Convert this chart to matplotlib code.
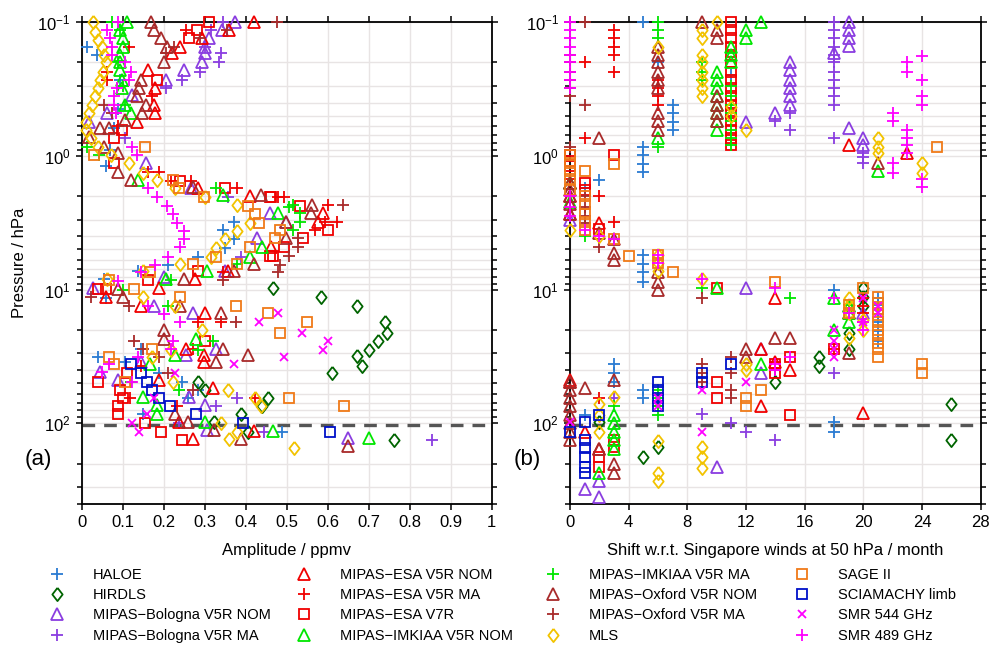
import matplotlib
matplotlib.use("Agg")
import matplotlib.pyplot as plt
from matplotlib.lines import Line2D
from matplotlib.ticker import LogLocator, MultipleLocator, NullFormatter, FuncFormatter

plt.rcParams["font.family"] = ["Liberation Sans", "DejaVu Sans"]
plt.rcParams["mathtext.fontset"] = "custom"
plt.rcParams["mathtext.rm"] = "Liberation Sans"
plt.rcParams["mathtext.it"] = "Liberation Sans:italic"
plt.rcParams["mathtext.bf"] = "Liberation Sans:bold"

# (pressure hPa, amplitude ppmv) and (pressure hPa, shift months)
HALOE_AMP = [(0.154, 0.014), (0.176, 0.038), (0.27, 0.095), (0.45, 0.09), (0.62, 0.08), (0.9, 0.07),
             (1.2, 0.06), (3.1, 0.371), (3.56, 0.346), (4.15, 0.373), (4.86, 0.351), (5.66, 0.285),
             (6.5, 0.21), (7.3, 0.137), (8.4, 0.055), (11.5, 0.06), (28, 0.144), (32, 0.04),
             (35, 0.107), (42, 0.188), (48.6, 0.246), (56, 0.283), (64, 0.26), (85.6, 0.15), (115, 0.49)]
HALOE_SHIFT = [(0.1, 5), (0.2, 6), (0.25, 11), (0.42, 7), (0.48, 7), (0.56, 7), (0.64, 7), (0.86, 5),
               (0.98, 5), (1.15, 5), (1.33, 5), (1.51, 2), (1.73, 1), (5.5, 5), (6.4, 5), (7.4, 5),
               (8.7, 5), (10, 18), (11.6, 21), (13.1, 21), (15.3, 21), (17.6, 21), (20.5, 21),
               (24.2, 21), (36, 3), (42, 3), (48.6, 3), (56, 5), (64, 5), (86, 1), (98, 18), (115, 18)]

HIRDLS_AMP = [(9.8, 0.466), (11.3, 0.583), (13.3, 0.671), (17.6, 0.741), (21, 0.746), (24.2, 0.724),
              (28.1, 0.70), (31.5, 0.673), (37, 0.683), (42, 0.61), (48.6, 0.285), (56.3, 0.30),
              (64, 0.454), (74, 0.439), (85.6, 0.39), (97, 0.324), (115, 0.407), (132, 0.763)]
HIRDLS_SHIFT = [(9.7, 20), (11.3, 20), (13.3, 20), (21, 19), (28, 19), (32, 17), (37, 17), (48.6, 14),
                (72, 26), (98, 2), (132, 26), (150, 6), (178, 5)]

BOLOGNA_NOM_AMP = [(0.1, 0.375), (0.115, 0.343), (0.132, 0.31), (0.154, 0.302), (0.17, 0.302),
                   (0.2, 0.294), (0.228, 0.249), (0.271, 0.205), (0.35, 0.124), (0.476, 0.063),
                   (0.557, 0.017), (1.13, 0.156), (1.73, 0.266), (2.67, 0.459), (3.1, 0.498),
                   (4.08, 0.429), (7.31, 0.351), (8.1, 0.2), (9.8, 0.027), (13.3, 0.176), (15, 0.273),
                   (27.6, 0.327), (31, 0.254), (35, 0.144), (41, 0.046), (47, 0.09), (63, 0.263),
                   (73, 0.3), (111, 0.307), (128, 0.649)]
BOLOGNA_NOM_SHIFT = [(0.1, 19), (0.115, 19), (0.132, 19), (0.15, 19), (0.17, 18), (0.2, 15), (0.23, 15),
                     (0.27, 15), (0.31, 15), (0.36, 15), (0.42, 15), (0.48, 14), (0.56, 12), (0.62, 19),
                     (0.73, 20), (0.83, 20), (3.0, 0), (9.7, 12), (13.3, 19), (15, 20), (27.6, 13),
                     (42, 13), (210, 10), (270, 2), (311, 1), (356, 2)]

BOLOGNA_MA_AMP = [(0.1, 0.345), (0.115, 0.315), (0.154, 0.302), (0.17, 0.34), (0.2, 0.335),
                  (0.236, 0.29), (0.27, 0.245), (0.31, 0.205), (0.73, 0.107), (2.02, 0.356),
                  (5.66, 0.388), (64, 0.38), (74, 0.327), (98.5, 0.237), (115, 0.444), (132, 0.854)]
BOLOGNA_MA_SHIFT = [(0.1, 18), (0.115, 18), (0.132, 18), (0.154, 18), (0.176, 18), (0.2, 18),
                    (0.236, 18), (0.27, 18), (0.31, 18), (0.36, 18), (0.42, 18), (0.476, 15),
                    (0.55, 14), (0.64, 15), (0.73, 18), (0.95, 20), (1.02, 20), (1.13, 20), (42, 18),
                    (64, 3), (85.6, 9), (98.5, 11), (115, 12), (132, 14)]

ESA_NOM_AMP = [(0.1, 0.42), (0.115, 0.36), (0.132, 0.294), (0.154, 0.241), (0.17, 0.221),
               (0.228, 0.163), (0.31, 0.18), (0.42, 0.176), (0.476, 0.18), (0.557, 0.136),
               (1.73, 0.285), (2.0, 0.412), (2.67, 0.59), (3.1, 0.576), (4.77, 0.461), (7.31, 0.356),
               (8.4, 0.276), (9.8, 0.188), (11.3, 0.059), (13.3, 0.144), (15, 0.3), (27.6, 0.254),
               (31, 0.298), (35, 0.298), (47, 0.188), (54, 0.32), (97, 0.237), (113, 0.42),
               (130, 0.273)]
ESA_NOM_SHIFT = [(0.83, 19), (0.95, 23), (1.6, 0), (2.0, 0), (2.7, 0), (3.2, 2), (11.6, 14), (15, 19),
                 (27.6, 13), (35, 14), (40, 15), (47, 0), (49, 0), (74, 13), (83, 20), (115, 1),
                 (156, 2)]

ESA_MA_AMP = [(0.115, 0.254), (0.154, 0.115), (0.236, 0.063), (0.27, 0.063), (0.36, 0.172),
              (0.6, 0.09), (1.32, 0.163), (1.32, 0.188), (1.54, 0.217), (1.54, 0.266), (1.73, 0.38),
              (2.02, 0.478), (2.02, 0.493), (2.32, 0.6), (3.1, 0.595), (3.1, 0.624), (3.56, 0.57),
              (7.44, 0.344), (17.6, 0.339), (17.6, 0.285), (28, 0.271), (37, 0.144), (64, 0.117),
              (64, 0.424), (74, 0.234)]
ESA_MA_SHIFT = [(0.115, 3), (0.132, 3), (0.154, 3), (0.176, 3), (0.2, 1), (0.236, 3), (0.27, 6),
                (0.31, 6), (0.36, 6), (0.42, 6), (0.73, 1), (1.5, 0), (2.0, 2), (3.1, 3), (11.6, 20),
                (13.3, 20), (15, 20), (17.6, 20), (28, 18), (35, 14), (40, 14), (64, 2), (74, 6)]

ESA_V7R_AMP = [(0.1, 0.31), (0.115, 0.282), (0.132, 0.261), (0.271, 0.185), (0.64, 0.099),
               (0.73, 0.078), (1.13, 0.078), (1.54, 0.241), (1.73, 0.349), (2.02, 0.459),
               (2.02, 0.461), (2.36, 0.532), (3.56, 0.6), (4.08, 0.541), (4.77, 0.493), (5.57, 0.459),
               (5.57, 0.466), (7.31, 0.285), (8.54, 0.163), (9.82, 0.041), (9.82, 0.059),
               (24.2, 0.3), (42, 0.112), (48.6, 0.041), (56, 0.093), (64, 0.1), (74, 0.09),
               (85.6, 0.088), (98.5, 0.154), (115, 0.193), (132, 0.246)]
ESA_V7R_SHIFT = [(0.1, 11), (0.115, 11), (0.132, 11), (0.154, 11), (0.176, 11), (0.2, 11), (0.236, 11),
                 (0.27, 11), (0.31, 11), (0.36, 11), (0.42, 11), (0.48, 11), (0.55, 11), (0.64, 11),
                 (0.73, 11), (0.83, 11), (0.98, 3), (0.98, 0), (1.1, 0), (1.2, 0), (1.6, 1), (1.8, 1),
                 (3.5, 2), (9.8, 10), (28, 18), (32, 15), (36, 14), (42, 14), (48.6, 10), (64, 10),
                 (86, 15), (132, 3), (150, 3), (178, 2), (210, 2)]

IMK_NOM_AMP = [(0.1, 0.11), (0.115, 0.095), (0.132, 0.1), (0.154, 0.1), (0.176, 0.095), (0.2, 0.095),
               (0.23, 0.095), (0.27, 0.099), (0.31, 0.099), (0.42, 0.107), (0.476, 0.12),
               (1.51, 0.137), (1.96, 0.346), (2.67, 0.478), (4.77, 0.441), (5.66, 0.412),
               (7.31, 0.307), (8.4, 0.205), (23.2, 0.278), (31, 0.229), (36, 0.168), (63, 0.151),
               (73, 0.183), (85.6, 0.185), (97, 0.302), (113, 0.466), (128, 0.702)]
IMK_NOM_SHIFT = [(0.1, 13), (0.115, 12), (0.132, 12), (0.154, 11), (0.176, 11), (0.2, 11), (0.236, 10),
                 (0.27, 10), (0.31, 10), (0.36, 10), (0.42, 10), (0.48, 10), (0.55, 10), (0.64, 10),
                 (0.73, 6), (1.3, 21), (1.6, 0), (2.2, 0), (9.8, 10), (11.6, 18), (13.3, 19),
                 (15, 19), (17.6, 19), (20, 18), (36, 13), (86, 3), (100, 3), (115, 3), (132, 3),
                 (156, 3), (236, 2)]

IMK_MA_AMP = [(0.1, 0.075), (0.115, 0.095), (0.2, 0.09), (0.3, 0.1), (0.42, 0.105), (0.86, 0.014),
              (0.98, 0.042), (1.73, 0.327), (2.32, 0.515), (2.4, 0.505), (2.67, 0.534), (3.1, 0.534),
              (3.56, 0.515), (6.42, 0.38), (8.54, 0.217), (10, 0.102), (13.3, 0.21), (24.2, 0.32),
              (28.1, 0.285), (48.6, 0.12), (56, 0.237)]
IMK_MA_SHIFT = [(0.1, 6), (0.115, 6), (0.132, 6), (0.2, 9), (0.236, 9), (0.27, 9), (0.3, 11),
                (0.36, 11), (0.42, 11), (0.48, 11), (0.55, 11), (0.64, 11), (0.73, 11), (0.83, 11),
                (0.86, 6), (4.0, 1), (4.2, 3), (9.8, 9), (11.6, 15), (13, 19), (15, 19), (56, 6),
                (64, 6), (74, 6), (86, 6), (74, 3)]

OXF_NOM_AMP = [(0.1, 0.17), (0.115, 0.176), (0.132, 0.193), (0.154, 0.209), (0.2, 0.2), (0.27, 0.144),
               (0.31, 0.139), (0.36, 0.136), (0.42, 0.156), (0.476, 0.148), (0.54, 0.107),
               (0.62, 0.046), (0.62, 0.066), (0.72, 0.017), (0.86, 0.054), (0.95, 0.09),
               (1.32, 0.088), (1.51, 0.12), (1.7, 0.273), (1.96, 0.437), (2.32, 0.563),
               (2.67, 0.559), (3.1, 0.498), (4.08, 0.498), (6.42, 0.42), (7.31, 0.371), (8.4, 0.249),
               (9.82, 0.088), (11.3, 0.1), (13.3, 0.241), (14.9, 0.339), (19.9, 0.2), (23.2, 0.2),
               (27.6, 0.344), (31, 0.405), (35, 0.329), (85.6, 0.227), (97, 0.259), (111, 0.324),
               (130, 0.388), (148, 0.649)]
OXF_NOM_SHIFT = [(0.1, 9), (0.115, 10), (0.132, 10), (0.154, 6), (0.176, 6), (0.2, 6), (0.236, 6),
                 (0.27, 6), (0.31, 6), (0.36, 10), (0.42, 10), (0.48, 10), (0.55, 10), (0.48, 6),
                 (0.55, 6), (0.64, 6), (0.73, 2), (1.13, 21), (1.6, 0), (1.8, 0), (2.0, 0), (2.3, 0),
                 (2.7, 0), (3.8, 2), (4.2, 3), (5.3, 3), (6, 3), (7.4, 6), (8.7, 6), (10, 6),
                 (23, 14), (23, 15), (27.6, 12), (32, 12), (30, 19), (47, 3), (54, 1), (48.6, 0),
                 (56, 0), (64, 0), (74, 0), (86, 0), (100, 0), (115, 0), (132, 0), (156, 2),
                 (200, 3), (236, 3)]

OXF_MA_AMP = [(0.1, 0.477), (0.115, 0.355), (0.132, 0.29), (0.154, 0.225), (0.17, 0.205),
              (0.42, 0.054), (0.48, 0.075), (2.32, 0.637), (4.08, 0.527), (4.77, 0.527),
              (5.57, 0.505), (6.54, 0.485), (7.44, 0.48), (8.54, 0.346), (11.3, 0.022),
              (13.3, 0.115), (17.6, 0.376), (24.2, 0.127), (28, 0.151), (32, 0.188), (42, 0.21),
              (56, 0.271)]
OXF_MA_SHIFT = [(0.1, 1), (0.176, 0), (0.2, 0), (0.236, 0), (0.27, 0), (0.31, 0), (0.36, 0), (0.42, 1),
                (0.86, 0), (2.0, 1), (2.4, 1), (2.8, 1), (3.2, 1), (4.8, 2), (11.6, 9), (32, 11),
                (36, 9), (42, 9), (48.6, 9), (42, 11), (56, 11), (64, 11)]

MLS_AMP = [(0.1, 0.029), (0.119, 0.034), (0.136, 0.041), (0.154, 0.05), (0.176, 0.054), (0.2, 0.059),
           (0.236, 0.053), (0.271, 0.046), (0.31, 0.041), (0.36, 0.034), (0.416, 0.026),
           (0.476, 0.017), (0.557, 0.012), (0.64, 0.01), (0.73, 0.022), (0.856, 0.039),
           (0.984, 0.071), (1.13, 0.115), (1.35, 0.151), (1.51, 0.183), (1.73, 0.227), (2.02, 0.3),
           (2.35, 0.378), (3.16, 0.41), (3.62, 0.378), (4.15, 0.349), (4.86, 0.329), (5.66, 0.315),
           (6.42, 0.241), (7.31, 0.151), (8.4, 0.061), (11.3, 0.151), (13.3, 0.229), (20, 0.295),
           (28.1, 0.217), (32, 0.173), (48.6, 0.222), (56, 0.356), (64, 0.424), (74, 0.437),
           (99, 0.34), (115, 0.378), (130, 0.359), (153, 0.517)]
MLS_SHIFT = [(0.1, 10), (0.115, 9), (0.132, 9), (0.154, 6), (0.176, 9), (0.2, 9), (0.236, 9),
             (0.27, 9), (0.31, 9), (0.36, 9), (0.43, 11), (0.5, 11), (0.64, 12), (0.73, 21),
             (0.86, 21), (0.95, 21), (1.13, 24), (1.34, 24), (3.6, 0), (4.0, 2), (5.5, 6), (6.3, 6),
             (7.3, 6), (8.4, 9), (11.6, 19), (13, 19), (15, 19), (17, 20), (20, 20), (23, 19),
             (36, 12), (40, 12), (63, 3), (72, 2), (86, 2), (115, 2), (135, 6), (150, 9), (178, 9),
             (215, 9), (236, 6), (270, 6)]

SAGE_AMP = [(0.86, 0.154), (0.98, 0.03), (1.51, 0.224), (1.73, 0.237), (2.02, 0.298), (2.36, 0.407),
            (2.72, 0.424), (3.16, 0.432), (3.56, 0.485), (4.08, 0.473), (4.77, 0.41), (5.66, 0.327),
            (6.42, 0.271), (6.42, 0.378), (7.44, 0.168), (8.54, 0.066), (9.82, 0.127),
            (11.3, 0.239), (13.3, 0.376), (15, 0.454), (17.6, 0.549), (21, 0.483), (28, 0.173),
            (32, 0.066), (36, 0.078), (48.6, 0.107), (64, 0.505), (74, 0.641)]
SAGE_SHIFT = [(0.86, 25), (0.98, 0), (1.13, 0), (1.15, 3), (1.3, 1), (1.3, 0), (1.5, 0), (1.8, 0),
              (2.0, 1), (2.3, 1), (2.7, 1), (3.1, 1), (3.6, 1), (4.2, 3), (5.6, 4), (5.5, 6),
              (6.3, 6), (7.4, 7), (8.7, 14), (9.7, 20), (11.3, 21), (12.5, 21), (14, 21), (15.5, 21),
              (17.6, 21), (19.9, 21), (22, 21), (25, 21), (28, 21), (32, 21), (13, 19), (15, 19),
              (36, 24), (42, 24), (56, 13), (64, 12), (74, 12)]

SCIA_AMP = [(36, 0.12), (42, 0.144), (48.6, 0.159), (56, 0.173), (64, 0.188), (74, 0.215),
            (85.6, 0.278), (98.5, 0.395), (115, 0.607)]
SCIA_SHIFT = [(36, 11), (42, 9), (48.6, 9), (48.6, 6), (56, 6), (64, 6), (74, 6), (86, 2), (98, 1),
              (115, 0), (132, 1), (153, 1), (178, 1), (210, 1), (236, 1)]

SMR544_AMP = [(15, 0.478), (17.6, 0.432), (21, 0.537), (24.2, 0.6), (28.1, 0.588), (32, 0.495),
              (36, 0.373), (42, 0.229), (64, 0.176), (85.6, 0.159), (98.5, 0.124), (115, 0.139)]
SMR544_SHIFT = [(11.6, 20), (13.3, 21), (15, 21), (17.6, 20), (19.9, 18), (24.2, 18), (28, 18),
                (32, 18), (48.6, 12), (56, 9), (64, 6), (74, 6), (98, 0), (115, 9)]

SMR489_AMP = [(0.1, 0.09), (0.115, 0.061), (0.132, 0.07), (0.154, 0.075), (0.176, 0.075), (0.2, 0.107),
              (0.236, 0.12), (0.27, 0.115), (0.31, 0.087), (0.36, 0.079), (0.42, 0.079),
              (0.48, 0.083), (0.86, 0.124), (0.98, 0.136), (1.73, 0.161), (2.02, 0.183),
              (2.36, 0.209), (2.72, 0.224), (3.16, 0.234), (3.62, 0.249), (4.15, 0.249),
              (4.77, 0.241), (5.66, 0.212), (6.54, 0.18), (7.44, 0.144), (8.69, 0.088),
              (13.3, 0.163), (15.3, 0.2), (17.6, 0.241), (24.2, 0.224), (28, 0.217), (32, 0.137),
              (36, 0.068), (41, 0.051), (48.6, 0.124)]
SMR489_SHIFT = [(0.1, 0), (0.115, 0), (0.132, 0), (0.154, 0), (0.176, 0), (0.2, 0), (0.236, 0),
                (0.27, 0), (0.31, 0), (0.18, 24), (0.2, 23), (0.236, 23), (0.27, 24), (0.36, 24),
                (0.42, 24), (0.48, 22), (0.55, 22), (0.64, 23), (0.73, 23), (0.83, 23), (0.95, 23),
                (1.13, 22), (1.34, 22), (1.5, 24), (1.7, 24), (2.0, 0), (2.4, 0), (2.8, 0), (3.6, 1),
                (4.0, 2), (4.2, 3), (5.5, 6), (6.3, 6), (8.4, 9), (9.8, 14), (11.6, 18), (15, 19),
                (17.6, 20), (20, 20), (32, 15), (36, 14), (40, 14)]

TROPOPAUSE = 103

diamond = [(0, 1), (0.78, 0), (0, -1), (-0.78, 0), (0, 1)]

# label, amplitude data, shift data, marker, colour, marker size
series = [
    ("HALOE", HALOE_AMP, HALOE_SHIFT, "+", "#2a7bd2", 8),
    ("HIRDLS", HIRDLS_AMP, HIRDLS_SHIFT, diamond, "#006400", 9.5),
    ("MIPAS\u2212Bologna V5R NOM", BOLOGNA_NOM_AMP, BOLOGNA_NOM_SHIFT, "^", "#8a3de0", 8),
    ("MIPAS\u2212Bologna V5R MA", BOLOGNA_MA_AMP, BOLOGNA_MA_SHIFT, "+", "#8a3de0", 8),
    ("MIPAS\u2212ESA V5R NOM", ESA_NOM_AMP, ESA_NOM_SHIFT, "^", "#f00000", 8),
    ("MIPAS\u2212ESA V5R MA", ESA_MA_AMP, ESA_MA_SHIFT, "+", "#f00000", 8),
    ("MIPAS\u2212ESA V7R", ESA_V7R_AMP, ESA_V7R_SHIFT, "s", "#f00000", 6.5),
    ("MIPAS\u2212IMKIAA V5R NOM", IMK_NOM_AMP, IMK_NOM_SHIFT, "^", "#00e600", 8),
    ("MIPAS\u2212IMKIAA V5R MA", IMK_MA_AMP, IMK_MA_SHIFT, "+", "#00e600", 8),
    ("MIPAS\u2212Oxford V5R NOM", OXF_NOM_AMP, OXF_NOM_SHIFT, "^", "#a82a2a", 8),
    ("MIPAS\u2212Oxford V5R MA", OXF_MA_AMP, OXF_MA_SHIFT, "+", "#a82a2a", 8),
    ("MLS", MLS_AMP, MLS_SHIFT, diamond, "#f2c300", 9.5),
    ("SAGE II", SAGE_AMP, SAGE_SHIFT, "s", "#f07a18", 6.5),
    ("SCIAMACHY limb", SCIA_AMP, SCIA_SHIFT, "s", "#0010c8", 6.5),
    ("SMR 544 GHz", SMR544_AMP, SMR544_SHIFT, "x", "#ff00ff", 5.5),
    ("SMR 489 GHz", SMR489_AMP, SMR489_SHIFT, "+", "#ff00ff", 8),
]


def style_axes(ax):
    ax.set_yscale("log")
    ax.set_ylim(400, 0.1)
    ax.yaxis.set_major_locator(LogLocator(base=10, numticks=10))
    ax.yaxis.set_minor_locator(LogLocator(base=10, subs=range(2, 10), numticks=30))
    ax.yaxis.set_minor_formatter(NullFormatter())
    ax.grid(True, which="both", axis="y", color="#e8e4e4", lw=1.0)
    ax.grid(True, which="major", axis="x", color="#e8e4e4", lw=1.0)
    ax.set_axisbelow(True)
    ax.tick_params(which="both", direction="out", top=True, right=True, labelsize=12, width=1.1)
    ax.tick_params(which="major", length=4.5)
    ax.tick_params(which="minor", length=3.5)
    for s in ax.spines.values():
        s.set_linewidth(1.3)
    ax.axhline(TROPOPAUSE, color="#555555", lw=2.4, ls=(0, (3.8, 2.7)), zorder=1.5)


fig = plt.figure(figsize=(9.92, 6.45), dpi=100)
ax1 = fig.add_axes([0.0822, 0.2186, 0.4133, 0.7473])
ax2 = fig.add_axes([0.5746, 0.2186, 0.4140, 0.7473])

for ax in (ax1, ax2):
    style_axes(ax)

handles = []
for label, amp, shift, marker, color, ms in series:
    kw = dict(ls="none", marker=marker, ms=ms, mfc="none", mec=color, mew=1.3, clip_on=False, zorder=3)
    ax1.plot([a for p, a in amp], [p for p, a in amp], **kw)
    ax2.plot([s for p, s in shift], [p for p, s in shift], **kw)
    handles.append(Line2D([], [], ls="none", marker=marker, ms=ms, mfc="none", mec=color, mew=1.3,
                          label=label))

ax1.set_xlim(0, 1)
ax1.xaxis.set_major_locator(MultipleLocator(0.1))
ax1.xaxis.set_major_formatter(FuncFormatter(lambda v, _: "%g" % round(v, 1)))
ax1.set_xlabel("Amplitude / ppmv", fontsize=12, labelpad=9)
ax1.set_ylabel("Pressure / hPa", fontsize=12, labelpad=7)

ax2.set_xlim(0, 28)
ax2.xaxis.set_major_locator(MultipleLocator(4))
ax2.set_xlabel("Shift w.r.t. Singapore winds at 50 hPa / month", fontsize=12, labelpad=9)

fig.text(0.025, 0.287, "(a)", fontsize=16, va="center")
fig.text(0.518, 0.287, "(b)", fontsize=16, va="center")

col_x = [0.0457, 0.2947, 0.5457, 0.7968]
for i, x0 in enumerate(col_x):
    fig.legend(handles=handles[4 * i:4 * i + 4], loc="upper left", bbox_to_anchor=(x0, 0.119),
               frameon=False, fontsize=10.5, handlelength=1.6, handletextpad=1.66,
               labelspacing=0.42, borderpad=0, borderaxespad=0, numpoints=1)

fig.savefig("out.png", dpi=100)
